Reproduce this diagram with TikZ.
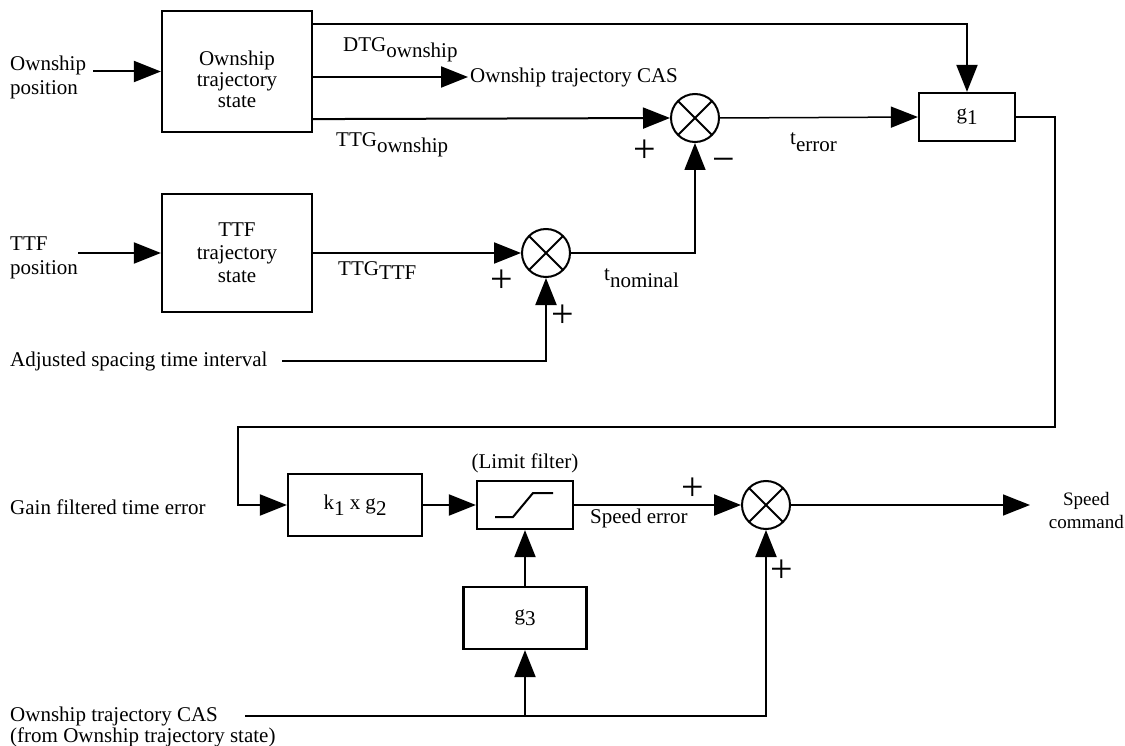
\documentclass[tikz,border=0pt]{standalone}
\usepackage{fontspec}
\setmainfont{Liberation Serif}
\usetikzlibrary{arrows.meta}
\newcommand{\lowsub}[2][6pt]{\raisebox{-#1}{#2}}
\tikzset{
  txt/.style={font=\fontsize{21}{24}\selectfont, inner sep=0pt},
  blk/.style={draw, line width=2.2pt, font=\fontsize{21}{22}\selectfont, inner sep=0pt, align=center},
  sumnode/.style={circle, draw, line width=2pt, minimum size=48pt, inner sep=0pt,
    path picture={\draw[line width=2pt] (path picture bounding box.north west) -- (path picture bounding box.south east)
      (path picture bounding box.north east) -- (path picture bounding box.south west);}},
  conn/.style={line width=2pt},
  thinline/.style={line width=1.5pt},
  arr/.style={conn, -{Triangle[length=27pt,width=21pt]}},
  sign/.style={font=\fontsize{40}{40}\selectfont, inner sep=0pt, anchor=base},
  lbl/.style={txt, anchor=base west},
}
\begin{document}
\begin{tikzpicture}[x=1pt,y=-1pt]
\useasboundingbox (0,0) rectangle (1125,746);

% ---- top: ownship
\node[blk, minimum width=150pt, minimum height=121pt] (os) at (237,71.5) {};
\node[txt, align=center, font=\fontsize{21}{21}\selectfont] (ostxt) at (237,79) {Ownship\\trajectory\\state};
\node[txt, anchor=west, align=left] (ospos) at (10,77) {Ownship\\position};
\coordinate (osin) at (93,71.5);
\draw[arr] (osin) -- (os.west);

\node[blk, minimum width=96pt, minimum height=48pt] (g1) at (967,117) {g\lowsub[5pt]{1}};
\node[sumnode] (sum1) at (695,118) {};

\draw[arr] ([yshift=-14pt]os.north east) -| (g1.north);
\node[lbl] (dtg) at (343,52) {DTG\lowsub{ownship}};
\node[txt, anchor=west, inner xsep=2pt] (cas1) at (468,77) {Ownship trajectory CAS};
\draw[arr] ([yshift=-5.5pt]os.east) -- (cas1.west);
\draw[arr] ([yshift=14pt]os.south east) -- (sum1.west);
\node[lbl] (ttgo) at (336,147) {TTG\lowsub{ownship}};
\node[sign] (p1) at (645,163) {+};
\node[sign] (m1) at (724,173) {−};
\draw[arr, thinline] (sum1.east) -- (g1.west);
\node[lbl] (terr) at (790,145) {t\lowsub[7pt]{error}};

% ---- TTF
\node[blk, minimum width=150pt, minimum height=118pt, font=\fontsize{21}{23}\selectfont] (ttf) at (237,253) {TTF\\trajectory\\state};
\node[txt, anchor=west, align=left] (ttfpos) at (10,258) {TTF\\position};
\coordinate (ttfin) at (78,253);
\draw[arr] (ttfin) -- (ttf.west);
\node[sumnode] (sum2) at (546,253) {};
\draw[arr] (ttf.east) -- (sum2.west);
\node[lbl] (ttgt) at (338,276) {TTG\lowsub[4pt]{TTF}};
\node[sign] (p2) at (502,293) {+};
\node[sign] (p3) at (563,327) {+};
\draw[arr, thinline] (sum2.east) -| (sum1.south);
\node[lbl] (tnom) at (604,280) {t\lowsub[7pt]{nominal}};
\node[txt, anchor=west] (adj) at (10,361) {Adjusted spacing time interval};
\coordinate (adjs) at (282,361);
\draw[arr] (adjs) -| (sum2.south);

% ---- bottom loop
\node[blk, minimum width=134pt, minimum height=62pt] (k1) at (355,505) {k\lowsub{1} x g\lowsub{2}};
\node[blk, minimum width=96pt, minimum height=48pt] (lim) at (525,505) {};
\draw[line width=2pt] (495,517) -- (513,517) -- (533,493) -- (553,493);
\node[txt] (limlbl) at (525,463) {(Limit filter)};
\node[blk, minimum width=123pt, minimum height=62pt] (g3) at (525,618) {g\lowsub[5pt]{3}};
\node[sumnode] (sum3) at (766,505) {};

\node[txt, anchor=west] (gain) at (10,507) {Gain filtered time error};
\coordinate (fbr) at (1055,427);
\coordinate (fbl) at (238,427);
\draw[arr] (g1.east) -| (fbr) -- (fbl) |- (k1.west);
\draw[arr] (k1.east) -- (lim.west);
\draw[arr] (lim.east) -- (sum3.west);
\node[sign] (p4) at (693,500) {+};
\node[txt, anchor=west] (sperr) at (590,518) {Speed error};
\draw[arr] (g3.north) -- (lim.south);

\node[txt, anchor=east, align=center, font=\fontsize{19}{23}\selectfont] (spcmd) at (1124,510) {Speed\\command};
\coordinate (spc) at (1030,505);
\draw[arr, thinline] (sum3.east) -- (spc);

\node[txt, anchor=west, align=left, font=\fontsize{21}{21}\selectfont] (cas2) at (10,727) {Ownship trajectory CAS\\(from Ownship trajectory state)};
\coordinate (bl) at (245,716);
\draw[arr] (bl) -| (sum3.south);
\draw[arr] (g3.south |- bl) -- (g3.south);
\node[sign] (p5) at (782,582) {+};
\end{tikzpicture}
\end{document}
